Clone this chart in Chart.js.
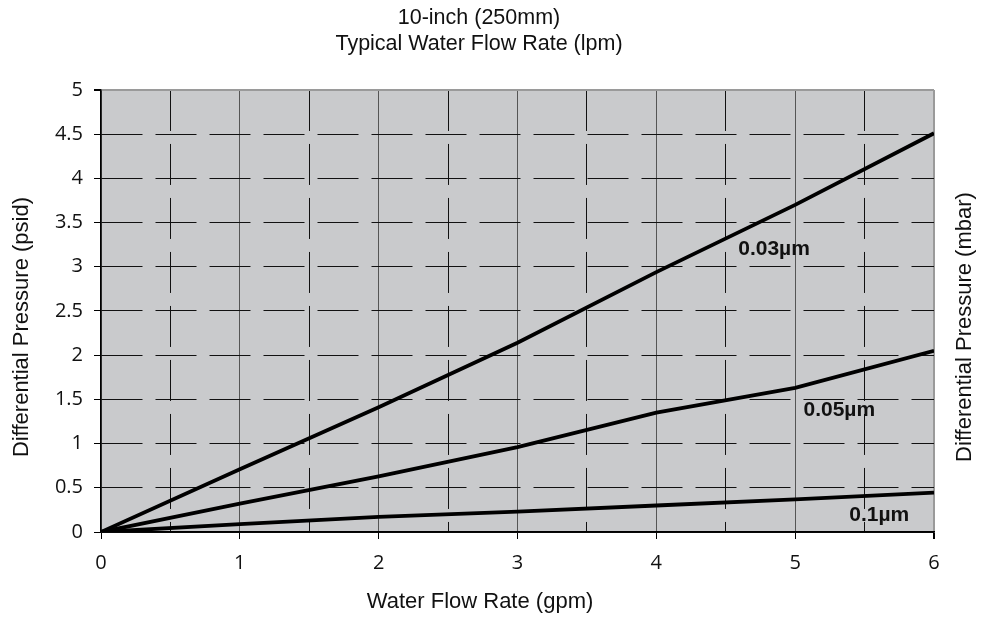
<!DOCTYPE html>
<html>
<head>
<meta charset="utf-8">
<script src="https://cdn.jsdelivr.net/npm/chart.js@4.4.1/dist/chart.umd.min.js"></script>
<style>
  html, body { margin: 0; padding: 0; background: #fff; }
  #wrap { width: 990px; height: 619px; }
</style>
</head>
<body>
<div id="wrap"><canvas id="chart" width="990" height="619"></canvas></div>
<script>
// Flow rate (gpm) on the x axis
const flowGpm = [0, 1, 2, 3, 4, 5, 6];

// Differential pressure (psid) per membrane rating
const dp003 = [0, 0.71, 1.41, 2.14, 2.94, 3.70, 4.51];
const dp005 = [0, 0.32, 0.63, 0.96, 1.35, 1.63, 2.05];
const dp01  = [0, 0.09, 0.17, 0.23, 0.30, 0.37, 0.445];

const seriesNames = ['0.03µm', '0.05µm', '0.1µm'];
// where each inline label starts (x in gpm, y in psid)
const labelX = [4.59, 5.06, 5.39];
const labelY = [3.2, 1.375, 0.19];

const titleLines = ['10-inch (250mm)', 'Typical Water Flow Rate (lpm)'];
const xTitle = 'Water Flow Rate (gpm)';
const yTitle = 'Differential Pressure (psid)';
const y2Title = 'Differential Pressure (mbar)';

const SANS = '"Liberation Sans", Arial, sans-serif';
const TICKFONT = '"Open Sans", sans-serif';
const DASH = [41, 13];
const isInt = v => Math.abs(v - Math.round(v)) < 1e-6;

function toPoints(ys) {
    return flowGpm.map((x, i) => ({ x: x, y: ys[i] }));
}

// grey plot area
const plotBg = {
    id: 'plotBg',
    beforeDraw(chart) {
        const { ctx, chartArea: a } = chart;
        ctx.save();
        ctx.fillStyle = '#fff';
        ctx.fillRect(0, 0, chart.width, chart.height);
        ctx.fillStyle = '#c9cacc';
        ctx.fillRect(a.left, a.top, a.right - a.left, a.bottom - a.top);
        ctx.restore();
    }
};

function axisText(ctx, text, x, y, rot) {
    ctx.save();
    ctx.translate(x, y);
    ctx.rotate(rot);
    ctx.fillStyle = '#111';
    ctx.font = '22px ' + SANS;
    ctx.textAlign = 'center';
    ctx.textBaseline = 'middle';
    ctx.fillText(text, 0, 0);
    ctx.restore();
}

// inline series labels and the axis titles
const extras = {
    id: 'extras',
    afterDatasetsDraw(chart) {
        const { ctx, scales } = chart;
        ctx.save();
        ctx.fillStyle = '#111';
        ctx.font = 'bold 21px ' + SANS;
        ctx.textBaseline = 'middle';
        ctx.textAlign = 'left';
        seriesNames.forEach((name, i) => {
            ctx.fillText(name, scales.x.getPixelForValue(labelX[i]), scales.y.getPixelForValue(labelY[i]));
        });
        ctx.restore();

        axisText(ctx, yTitle, 22, 327, -Math.PI / 2);
        axisText(ctx, y2Title, 965, 327, -Math.PI / 2);
        axisText(ctx, xTitle, 480, 602, 0);
    }
};

const lineStyle = {
    borderColor: '#000',
    borderWidth: 3.8,
    pointRadius: 0,
    tension: 0,
    fill: false
};

new Chart(document.getElementById('chart'), {
    type: 'line',
    data: {
        datasets: [
            Object.assign({ label: seriesNames[0], data: toPoints(dp003) }, lineStyle),
            Object.assign({ label: seriesNames[1], data: toPoints(dp005) }, lineStyle),
            Object.assign({ label: seriesNames[2], data: toPoints(dp01) }, lineStyle)
        ]
    },
    options: {
        responsive: false,
        animation: false,
        layout: { padding: { left: 0, right: 32, top: 0, bottom: 0 } },
        plugins: {
            legend: { display: false },
            tooltip: { enabled: false },
            title: {
                display: true,
                text: titleLines,
                color: '#111',
                font: { family: SANS, size: 21.5, weight: 'normal', lineHeight: 1.22 },
                padding: { top: 4.5, bottom: 33 }
            }
        },
        scales: {
            x: {
                type: 'linear',
                min: 0,
                max: 6,
                afterFit: s => { s.height = 87; },
                ticks: {
                    stepSize: 0.5,
                    autoSkip: false,
                    maxRotation: 0,
                    color: '#111',
                    padding: 12,
                    font: { family: TICKFONT, size: 20 },
                    callback: v => isInt(v) ? String(v) : ''
                },
                grid: {
                    tickLength: 7,
                    tickColor: ctx => (ctx.tick && isInt(ctx.tick.value)) ? '#000' : 'rgba(0,0,0,0)',
                    color: ctx => {
                        if (!ctx.tick) return '#000';
                        if (ctx.tick.value === 6) return '#9a9a9a';
                        return isInt(ctx.tick.value) ? '#555' : '#111';
                    },
                    lineWidth: ctx => (ctx.tick && ctx.tick.value === 6) ? 2 : 1
                },
                border: {
                    display: true,
                    color: '#000',
                    width: 1.5,
                    dash: ctx => (ctx.tick && !isInt(ctx.tick.value)) ? DASH : []
                },
                title: { display: false }
            },
            y: {
                type: 'linear',
                min: 0,
                max: 5,
                afterFit: s => { s.width = 101; },
                ticks: {
                    stepSize: 0.5,
                    autoSkip: false,
                    color: '#111',
                    padding: 11,
                    font: { family: TICKFONT, size: 20 },
                    callback: v => String(v)
                },
                grid: {
                    tickLength: 7,
                    tickColor: '#000',
                    color: ctx => (ctx.tick && ctx.tick.value === 5) ? '#9a9a9a' : '#111',
                    lineWidth: ctx => (ctx.tick && ctx.tick.value === 5) ? 2 : 1
                },
                border: {
                    display: true,
                    color: '#000',
                    width: 1.5,
                    dash: ctx => (ctx.tick && ctx.tick.value !== 5 && ctx.tick.value !== 0) ? DASH : []
                },
                title: { display: false }
            },
            // empty right axis, only holds room for the mbar title
            y2: {
                type: 'linear',
                position: 'right',
                min: 0,
                max: 5,
                afterFit: s => { s.width = 24; },
                ticks: { display: false },
                grid: { display: false },
                border: { display: false }
            }
        }
    },
    plugins: [plotBg, extras]
});
</script>
</body>
</html>
